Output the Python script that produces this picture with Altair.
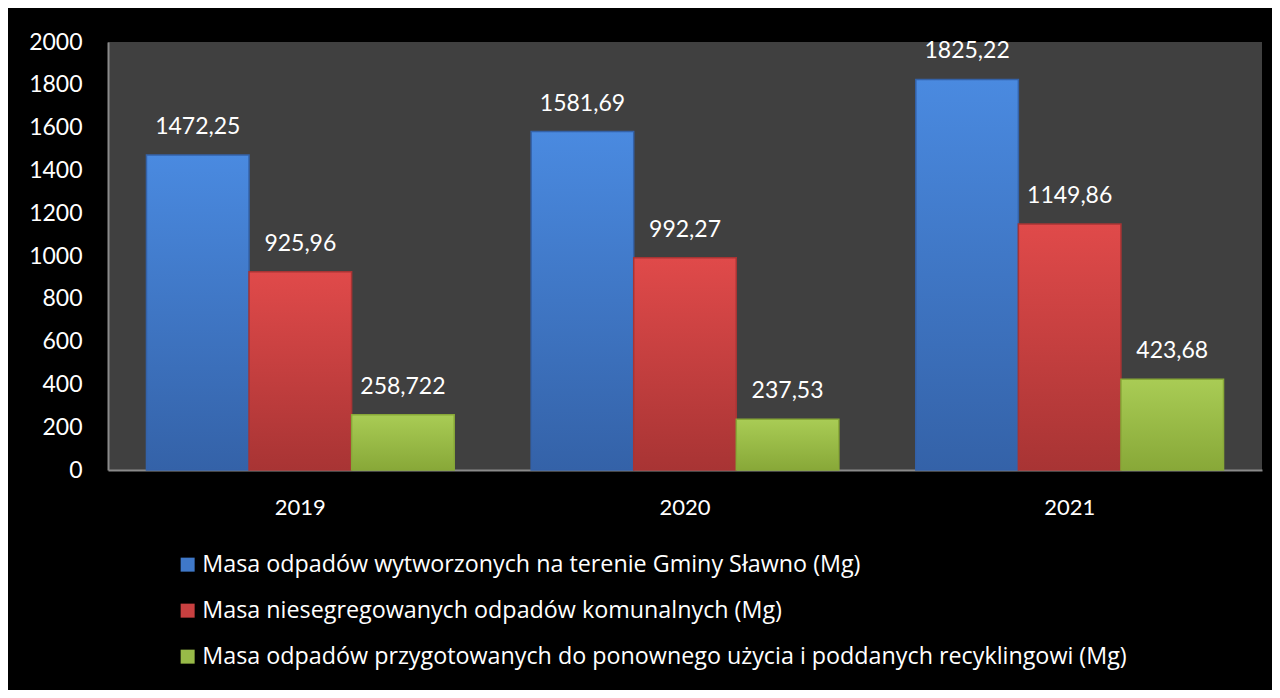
import altair as alt
import pandas as pd

years = ["2019", "2020", "2021"]
series = [
    "Masa odpadów wytworzonych na terenie Gminy Sławno (Mg)",
    "Masa niesegregowanych odpadów komunalnych (Mg)",
    "Masa odpadów przygotowanych do ponownego użycia i poddanych recyklingowi (Mg)",
]
values_total = [1472.25, 1581.69, 1825.22]
values_unsorted = [925.96, 992.27, 1149.86]
values_recycled = [258.722, 237.53, 423.68]
y_ticks = list(range(0, 2001, 200))

colors_top = ["#4a8ae0", "#e04a4a", "#a9cc55"]
colors_bottom = ["#3462a8", "#a83434", "#88a838"]
colors_mid = ["#3f78c8", "#c84040", "#98ba48"]

rows = []
for i, y in enumerate(years):
    for s, vals in zip(series, [values_total, values_unsorted, values_recycled]):
        v = vals[i]
        rows.append({"year": y, "series": s, "value": v, "label": str(v).replace(".", ",")})
df = pd.DataFrame(rows)

FONT = "Lato"

x_enc = alt.X("year:N", sort=years,
              scale=alt.Scale(paddingInner=0.2, paddingOuter=0.1),
              axis=alt.Axis(title=None, labelAngle=0, labelFontSize=22, labelColor="white",
                            labelPadding=27, ticks=False, domainColor="#8a8a8a", domainWidth=2,
                            labelFont=FONT))
xo_enc = alt.XOffset("series:N", sort=series, scale=alt.Scale(paddingInner=0, paddingOuter=0))
y_enc = alt.Y("value:Q", scale=alt.Scale(domain=[0, 2000], nice=False),
              axis=alt.Axis(title=None, values=y_ticks, grid=False, ticks=False, format="d",
                            labelFontSize=23, labelColor="white", labelPadding=26,
                            domainColor="#8a8a8a", domainWidth=2, labelFont=FONT))

base = alt.Chart(df)

bars = base.mark_bar().encode(
    x=x_enc, xOffset=xo_enc, y=y_enc,
    color=alt.Color("series:N", sort=series,
                    scale=alt.Scale(domain=series, range=colors_mid),
                    legend=alt.Legend(title=None, orient="none", legendX=68, legendY=511,
                                      direction="vertical", symbolType="square",
                                      symbolSize=196, symbolStrokeWidth=0,
                                      labelFontSize=23.3, labelColor="white", labelFont="Open Sans",
                                      rowPadding=22, labelLimit=1200, symbolOffset=0,
                                      labelOffset=3)),
)

grad_layers = []
for s, ct, cb in zip(series, colors_top, colors_bottom):
    grad_layers.append(
        base.transform_filter(alt.datum.series == s).mark_bar(
            fill=alt.Gradient(gradient="linear", x1=0, y1=0, x2=0, y2=1,
                              stops=[alt.GradientStop(offset=0, color=ct),
                                     alt.GradientStop(offset=1, color=cb)]),
            stroke=cb, strokeWidth=1.5,
        ).encode(x=x_enc, xOffset=xo_enc, y=y_enc)
    )

labels = base.mark_text(dy=-28, fontSize=23, color="white", font=FONT).encode(
    x=x_enc, xOffset=xo_enc, y=y_enc, text="label:N"
)

chart = alt.layer(bars, *grad_layers, labels).properties(
    width=1154, height=428,
    background="black",
    padding={"left": 100, "top": 34, "right": 10, "bottom": 220},
    autosize=alt.AutoSizeParams(type="none"),
).configure_view(fill="#404040", stroke=None)

chart.save("out.html", embed_options={"renderer": "svg", "actions": False})
